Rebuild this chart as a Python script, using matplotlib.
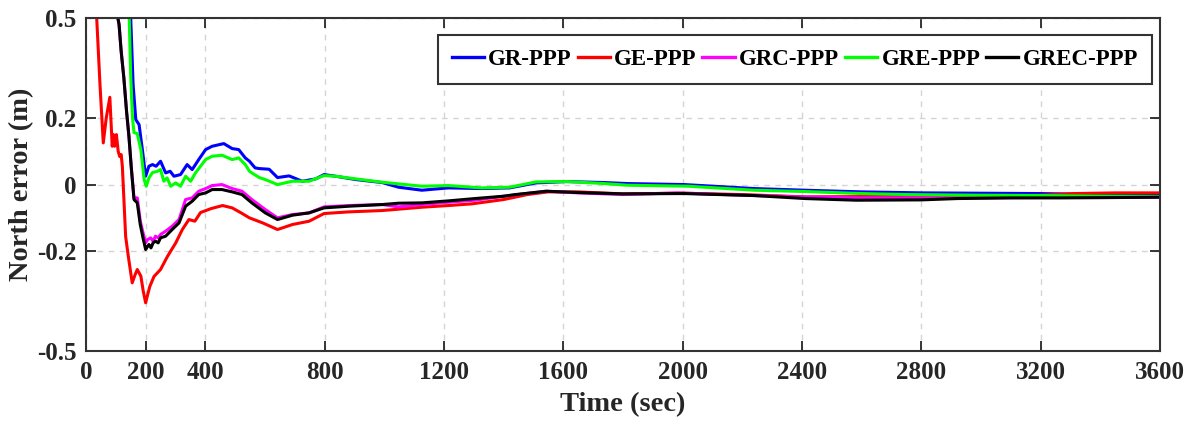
import matplotlib
matplotlib.use('Agg')
import matplotlib.pyplot as plt

plt.rcParams['font.family'] = 'Liberation Serif'
plt.rcParams['font.weight'] = 'bold'

# GR-PPP
t_gr = [142, 150, 158, 167, 178, 189, 200, 211, 223, 235, 250, 267, 282, 295, 317, 339, 356, 378,
        401, 423, 462, 490, 512, 534, 548, 567, 581, 614, 642, 681, 725, 770, 798, 837, 904, 993,
        1048, 1126, 1215, 1327, 1420, 1509, 1611, 1738, 1815, 2005, 2240, 2411, 2600, 2808, 3000,
        3200, 3400, 3600]
n_gr = [0.7, 0.5, 0.30, 0.195, 0.18, 0.105, 0.025, 0.055, 0.06, 0.055, 0.07, 0.035, 0.04, 0.025,
        0.03, 0.06, 0.045, 0.075, 0.105, 0.115, 0.123, 0.108, 0.105, 0.08, 0.07, 0.05, 0.048, 0.046,
        0.021, 0.026, 0.01, 0.017, 0.03, 0.025, 0.015, 0.006, -0.008, -0.017, -0.01, -0.012, -0.01,
        0.005, 0.009, 0.006, 0.003, 0.0, -0.012, -0.017, -0.022, -0.025, -0.026, -0.027, -0.03,
        -0.032]

# GE-PPP
t_ge = [30, 36, 47, 58, 68, 80, 88, 92, 96, 102, 108, 113, 118, 122, 133, 142, 155, 165, 172, 184,
        192, 200, 207, 214, 228, 250, 273, 301, 323, 345, 365, 384, 420, 458, 490, 520, 548, 592,
        642, 692, 748, 798, 881, 993, 1126, 1215, 1293, 1400, 1480, 1549, 1650, 1800, 2000, 2200,
        2411, 2600, 2800, 2922, 3100, 3200, 3313, 3450, 3600]
n_ge = [0.7, 0.5, 0.3, 0.125, 0.2, 0.262, 0.115, 0.15, 0.115, 0.15, 0.1, 0.084, 0.09, 0.054, -0.156,
        -0.216, -0.295, -0.27, -0.255, -0.275, -0.32, -0.355, -0.33, -0.306, -0.276, -0.255,
        -0.216, -0.175, -0.135, -0.105, -0.11, -0.084, -0.072, -0.063, -0.07, -0.085, -0.1, -0.115,
        -0.135, -0.12, -0.11, -0.087, -0.082, -0.078, -0.068, -0.063, -0.058, -0.045, -0.03,
        -0.022, -0.022, -0.028, -0.026, -0.03, -0.037, -0.036, -0.035, -0.035, -0.034, -0.032,
        -0.027, -0.025, -0.025]

# GRC-PPP
t_grc = [100, 107, 111, 118, 127, 136, 144, 152, 161, 172, 182, 190, 200, 207, 217, 225, 233, 242,
         250, 267, 289, 312, 334, 356, 378, 401, 423, 456, 490, 523, 556, 601, 642, 692, 748, 798,
         881, 993, 1048, 1126, 1215, 1304, 1400, 1543, 1650, 1800, 1983, 2200, 2394, 2600, 2808,
         3000, 3200, 3400, 3600]
n_grc = [0.7, 0.5, 0.48, 0.4, 0.32, 0.22, 0.145, 0.05, -0.04, -0.04, -0.11, -0.14, -0.175, -0.165,
         -0.16, -0.17, -0.155, -0.16, -0.15, -0.14, -0.125, -0.105, -0.045, -0.04, -0.02, -0.012,
         -0.003, 0.0, -0.012, -0.02, -0.045, -0.075, -0.1, -0.09, -0.085, -0.067, -0.063, -0.06,
         -0.067, -0.06, -0.053, -0.047, -0.035, -0.02, -0.025, -0.03, -0.025, -0.032, -0.037, -0.04,
         -0.04, -0.04, -0.039, -0.039, -0.038]

# GRE-PPP
t_gre = [140, 145, 150, 156, 161, 172, 184, 195, 202, 211, 223, 240, 250, 261, 272, 284, 301, 317,
         334, 351, 367, 384, 401, 423, 456, 490, 512, 534, 548, 556, 581, 601, 642, 692, 748, 798,
         837, 904, 993, 1048, 1126, 1215, 1327, 1420, 1509, 1611, 1738, 1815, 2020, 2240, 2411,
         2600, 2751, 3000, 3200, 3400, 3600]
n_gre = [0.7, 0.5, 0.325, 0.2, 0.156, 0.153, 0.105, 0.015, -0.005, 0.02, 0.036, 0.04, 0.045, 0.01,
         0.02, -0.005, 0.005, -0.005, 0.025, 0.01, 0.035, 0.055, 0.075, 0.085, 0.088, 0.075, 0.08,
         0.06, 0.04, 0.035, 0.021, 0.015, 0.0, 0.01, 0.01, 0.027, 0.025, 0.017, 0.007, 0.002,
         -0.005, -0.003, -0.01, -0.008, 0.008, 0.009, 0.003, -0.002, -0.005, -0.017, -0.021,
         -0.027, -0.03, -0.032, -0.033, -0.035, -0.036]

# GREC-PPP
t_grec = [100, 107, 111, 118, 127, 136, 144, 152, 161, 172, 182, 190, 200, 207, 211, 218, 225, 233,
          242, 250, 267, 289, 312, 334, 356, 378, 401, 423, 456, 490, 523, 556, 601, 642, 692, 748,
          798, 881, 993, 1048, 1126, 1215, 1304, 1400, 1440, 1543, 1650, 1800, 2003, 2240, 2411,
          2581, 2800, 2922, 3100, 3262, 3450, 3600]
n_grec = [0.7, 0.5, 0.48, 0.4, 0.32, 0.22, 0.145, 0.05, -0.045, -0.055, -0.12, -0.155, -0.195,
          -0.185, -0.18, -0.19, -0.175, -0.17, -0.175, -0.16, -0.155, -0.135, -0.115, -0.065,
          -0.05, -0.03, -0.025, -0.015, -0.015, -0.022, -0.03, -0.055, -0.085, -0.105, -0.092,
          -0.085, -0.07, -0.065, -0.06, -0.056, -0.055, -0.049, -0.042, -0.035, -0.03, -0.02,
          -0.024, -0.028, -0.027, -0.033, -0.042, -0.047, -0.046, -0.042, -0.04, -0.04, -0.039,
          -0.038]

x_ticks = [0, 200, 400, 800, 1200, 1600, 2000, 2400, 2800, 3200, 3600]
y_ticks = [-0.5, -0.2, 0, 0.2, 0.5]
y_tick_labels = ['-0.5', '-0.2', '0', '0.2', '0.5']

series = [
    (t_gr, n_gr, '#0000ff', 'GR-PPP'),
    (t_ge, n_ge, '#ff0000', 'GE-PPP'),
    (t_grc, n_grc, '#ff00ff', 'GRC-PPP'),
    (t_gre, n_gre, '#00ff00', 'GRE-PPP'),
    (t_grec, n_grec, '#000000', 'GREC-PPP'),
]

fig = plt.figure(figsize=(11.94, 4.34), dpi=100)
ax = fig.add_axes([0.072, 0.191, 0.8995, 0.7675])

for t, n, c, name in series:
    ax.plot(t, n, color=c, linewidth=2.2, label=name)

ax.set_xlim(0, 3600)
ax.set_ylim(-0.5, 0.5)
ax.set_xticks(x_ticks)
ax.set_yticks(y_ticks)
ax.set_yticklabels(y_tick_labels)
ax.grid(True, linestyle=(0, (4, 4)), color='#d4d4d4', linewidth=1.0)
ax.set_axisbelow(True)

ax.tick_params(direction='in', top=True, right=True, length=7, width=1.3,
               labelsize=18, colors='#262626', pad=7)
for sp in ax.spines.values():
    sp.set_linewidth(1.5)
    sp.set_color('#333333')

ax.set_xlabel('Time (sec)', fontsize=20.5, fontweight='bold', color='#262626', labelpad=6)
ax.set_ylabel('North error (m)', fontsize=20.5, fontweight='bold', color='#262626', labelpad=2)

leg = ax.legend(loc='upper right', bbox_to_anchor=(0.9926, 0.949), ncol=5,
                fontsize=16.5, frameon=True, fancybox=False, edgecolor='#333333',
                framealpha=1, borderaxespad=0, handlelength=1.4, handletextpad=0.2,
                columnspacing=0.25, borderpad=0.6)
leg.get_frame().set_linewidth(1.5)
for lh in leg.get_lines():
    lh.set_linewidth(2.4)

fig.savefig('out.png', dpi=100)
